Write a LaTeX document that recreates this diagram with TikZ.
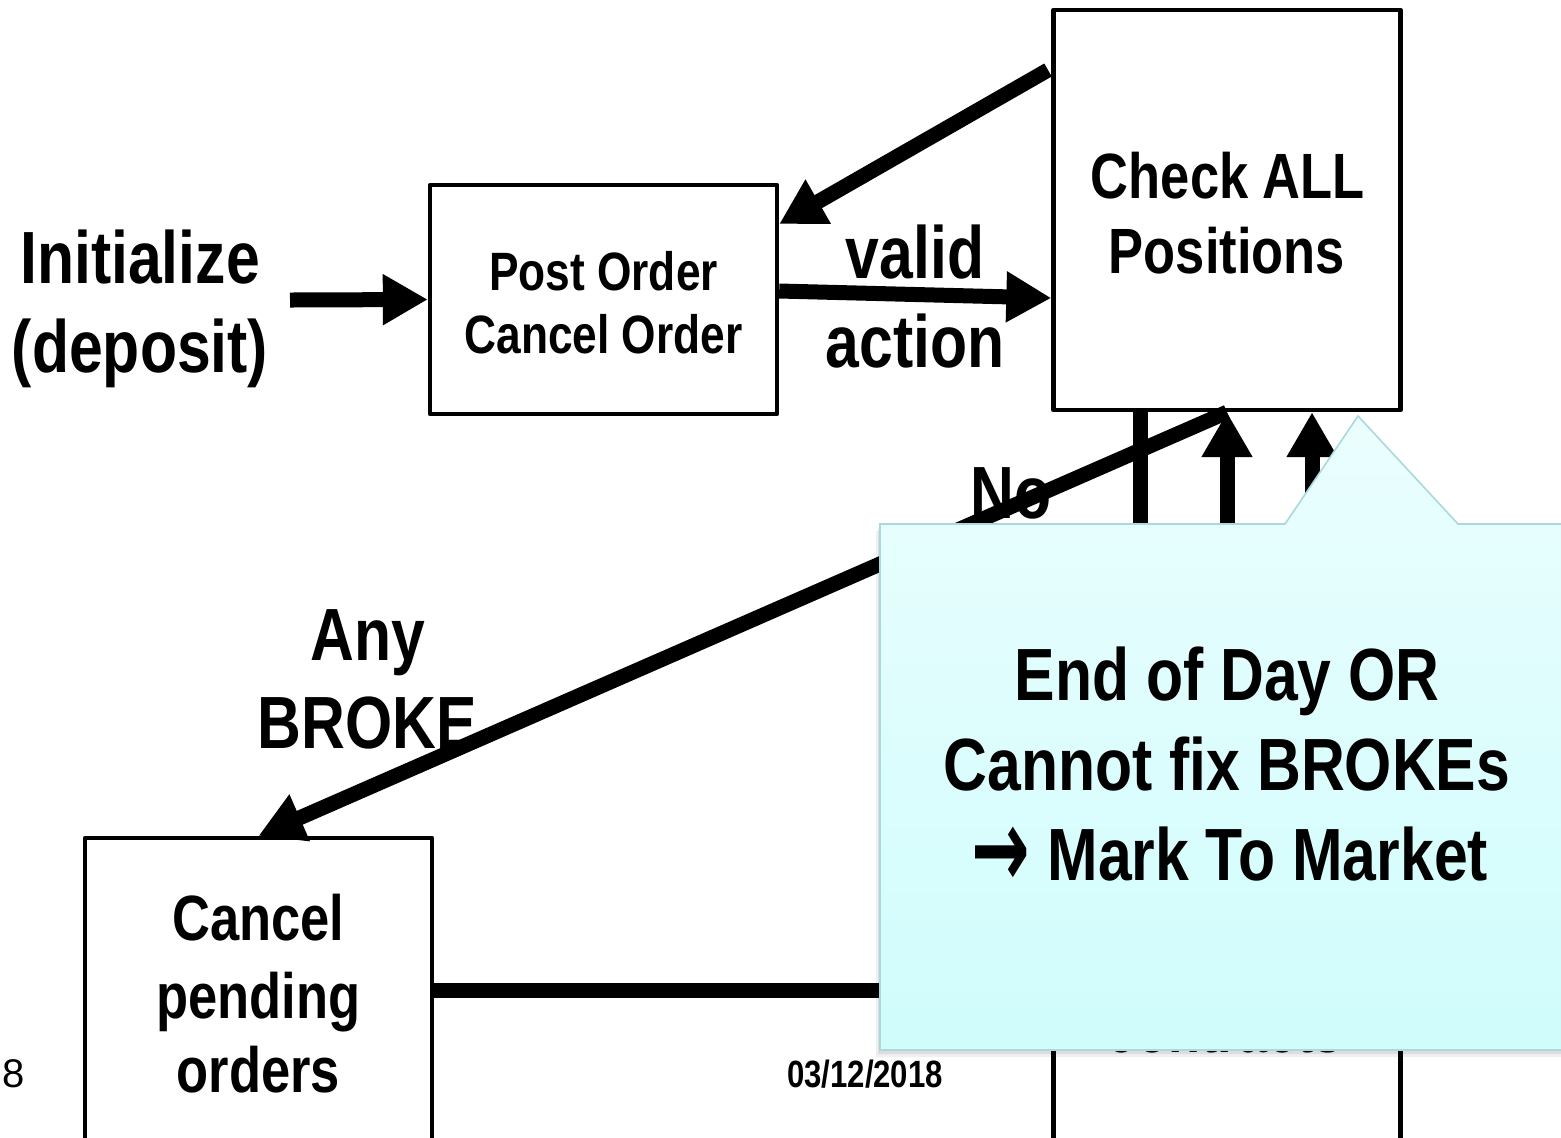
\documentclass[tikz,border=0pt]{standalone}
\usepackage{fontspec}
\newfontfamily\nsans{Liberation Sans}[FakeStretch=0.82]
\newfontfamily\symfont{DejaVu Sans}
\usetikzlibrary{arrows.meta}
\definecolor{calltop}{HTML}{EBFEFE}
\definecolor{callbot}{HTML}{D0FCFC}
\definecolor{callline}{HTML}{A9D9DD}
\newcommand\txtsize[1]{\fontsize{#1}{#1}\selectfont}
\tikzset{
  box/.style={draw, line width=2.2pt, line join=round, inner sep=0pt, minimum width=173.5pt},
  fat/.style={line width=7.5pt, -{Triangle[length=22.5pt,width=24pt]}},
  lbl/.style={inner sep=0pt, anchor=base, font=\nsans\bfseries\txtsize{#1}},
  lbl/.default=37pt,
}
\begin{document}
\begin{tikzpicture}[x=0.5pt,y=-0.5pt]
\clip (0,0) rectangle (1561,1137);
\fill[white] (0,0) rectangle (1561,1137);

% boxes
\node[box, minimum height=114.5pt] (post) at (603.5,299.5) {};
\node[box, minimum height=200pt] (check) at (1227,210) {};
\node[box, minimum height=166pt] (cancel) at (258.5,1004) {};
\node[box, minimum height=145pt] (settle) at (1227,1025) {};

% box texts
\node[lbl=27pt] (postA) at (603.5,290) {Post Order};
\node[lbl=27pt] (postB) at (603.5,353) {Cancel Order};
\node[lbl=32pt] (checkA) at (1228,198) {Check ALL};
\node[lbl=32pt] (checkB) at (1227,273) {Positions};
\node[lbl=32pt] (cancelA) at (258.5,940) {Cancel};
\node[lbl=32pt] (cancelB) at (258.5,1018) {pending};
\node[lbl=32pt] (cancelC) at (258.5,1092) {orders};
\node[lbl=32pt] (settleA) at (1225,1052) {contracts};

% free labels
\node[lbl] (initA) at (140,283) {Initialize};
\node[lbl] (initB) at (140,372) {(deposit)};
\node[lbl] (validA) at (915,278) {valid};
\node[lbl] (validB) at (915,367) {action};
\node[lbl] (anyA) at (368,660) {Any};
\node[lbl] (anyB) at (367,748) {BROKE};
\node[lbl] (no) at (1011,518) {No};

% connectors
\coordinate (initStart) at (290,300);
\coordinate (cpStart) at (1048,70);
\draw[fat] (initStart) -- (post.west);
\draw[fat] (post.east |- 0,291) -- (check.west |- 0,298);
\draw[fat] (cpStart) -- (post.east |- 0,224);
\draw[fat] (check.south) -- (cancel.north);
\draw[fat] (check.south -| 1140,0) -- (settle.north -| 1140,0);
\draw[fat] (settle.north -| check.south) -- (check.south);
\draw[fat] (settle.north -| 1312,0) -- (check.south -| 1312,0);
\draw[fat] (cancel.east |- 0,990) -- (settle.west |- 0,990);

% footer
\node[inner sep=0pt, anchor=base, font=\fontspec{Liberation Sans}\txtsize{20pt}] (page) at (14,1087) {8};
\node[lbl=19pt] (date) at (865,1087) {03/12/2018};

% callout
\def\callpath{(880,524) -- (1285,524) -- (1358,416) -- (1458,524) -- (1580,524) -- (1580,1050) -- (880,1050) -- cycle}
\fill[black, opacity=0.06] [shift={(-4,7)}] \callpath;
\fill[black, opacity=0.08] [shift={(-2,4)}] \callpath;
\shade[top color=calltop, bottom color=callbot, draw=callline, line width=0.8pt] \callpath;
\node[lbl] (callA) at (1227,700) {End of Day OR};
\node[lbl] (callB) at (1227,790) {Cannot fix BROKEs};
\node[lbl] (callC) at (1230,880) {\raisebox{-3.5pt}{\scalebox{1}[1.6]{\symfont\txtsize{35pt}→}} Mark To Market};
\end{tikzpicture}
\end{document}
